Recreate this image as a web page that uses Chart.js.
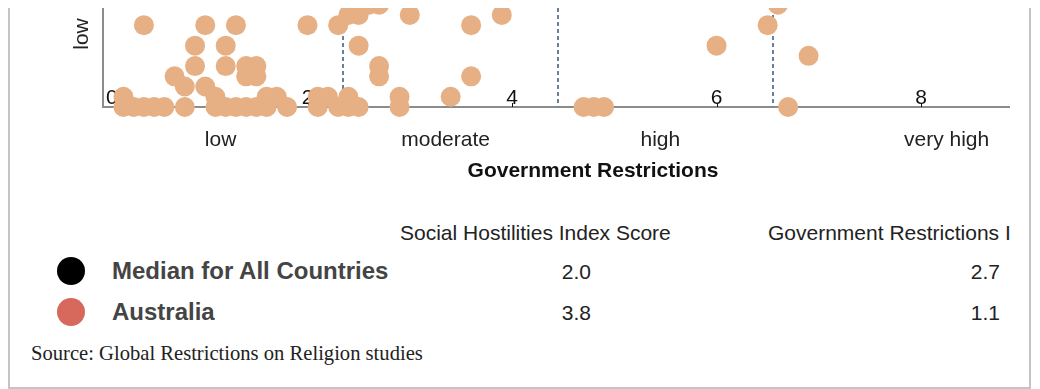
<!DOCTYPE html>
<html>
<head>
<meta charset="utf-8">
<script src="https://cdn.jsdelivr.net/npm/chart.js@4.4.0/dist/chart.umd.min.js"></script>
<style>
  body { margin: 0; background: #fff; font-family: "Liberation Sans", Arial, sans-serif; }
  #frame {
    position: absolute; left: 8px; top: 8px; width: 1023px; height: 381px;
    box-sizing: border-box; border: 2px solid #c4c4c4; border-top: none; overflow: hidden;
  }
  #chartBox { position: absolute; left: 0; top: 0; width: 1019px; height: 190px; }
  .cell { position: absolute; white-space: nowrap; overflow: hidden; }
  .head { font-size: 21px; line-height: 24px; color: #222; }
  .name { font-size: 24px; line-height: 28px; font-weight: bold; color: #444; }
  .val { font-size: 21px; line-height: 24px; color: #222; text-align: right; width: 100px; }
  .dot { position: absolute; width: 28px; height: 28px; border-radius: 50%; }
  #source {
    position: absolute; left: 21px; top: 333px; font-family: "Liberation Serif", "Times New Roman", serif;
    font-size: 20.6px; line-height: 24px; color: #222; white-space: nowrap;
  }
</style>
</head>
<body>
<div id="frame">
  <div id="chartBox"><canvas id="chart" width="1019" height="190"></canvas></div>
  <div id="table"></div>
  <div id="source">Source: Global Restrictions on Religion studies</div>
</div>
<script>
// country scores: government restrictions (x) and social hostilities (y)
const govRestrictions = [
  0.2, 0.3, 0.4, 0.5, 0.6, 0.8, 1.1, 1.2, 1.3, 1.4, 1.5, 1.6, 1.8, 2.1, 2.3, 2.4, 2.5, 2.9, 4.7, 4.8, 4.9, 6.7,
  0.2, 1.1, 1.6, 1.7, 2.1, 2.2, 2.4, 2.9, 3.4,
  0.8, 1.0,
  0.7, 1.4, 1.5, 2.7, 3.6,
  0.9, 1.2, 1.4, 1.5, 2.7,
  6.9,
  0.9, 1.2, 2.5, 6.0,
  0.4, 1.0, 1.3, 2.0, 2.3, 3.6, 6.5,
  2.4, 2.5, 3.0, 3.9,
  2.6, 2.7, 6.6
];
const socialHostilities = [
  0, 0, 0, 0, 0, 0, 0, 0, 0, 0, 0, 0, 0, 0, 0, 0, 0, 0, 0, 0, 0, 0,
  0.1, 0.1, 0.1, 0.1, 0.1, 0.1, 0.1, 0.1, 0.1,
  0.2, 0.2,
  0.3, 0.3, 0.3, 0.3, 0.3,
  0.4, 0.4, 0.4, 0.4, 0.4,
  0.5,
  0.6, 0.6, 0.6, 0.6,
  0.8, 0.8, 0.8, 0.8, 0.8, 0.8, 0.8,
  0.9, 0.9, 0.9, 0.9,
  1.0, 1.0, 1.0
];

const xTickValues = [0, 2, 4, 6, 8];
const categoryNames = ["low", "moderate", "high", "very high"];
const categoryBounds = [0, 2.3, 4.4, 6.5, 10];
const dividerValues = [2.35, 4.45, 6.55];

const summaryNames = ["Median for All Countries", "Australia"];
const shiScores = [2.0, 3.8];
const griScores = [2.7, 1.1];
const columnTitles = ["Social Hostilities Index Score", "Government Restrictions Index Score"];

const summaryColors = ["#000000", "#d7695c"];
const FONT = '"Liberation Sans", Arial, sans-serif';

// dashed dividers, inside tick labels, category labels and titles
const overlay = {
  id: "overlay",
  beforeDatasetsDraw(chart) {
    const { ctx, chartArea, scales: { x } } = chart;
    ctx.save();
    ctx.strokeStyle = "#6a7f9c";
    ctx.lineWidth = 2;
    ctx.setLineDash([4, 3]);
    dividerValues.forEach(v => {
      const px = Math.round(x.getPixelForValue(v));
      ctx.beginPath();
      ctx.moveTo(px, chartArea.top);
      ctx.lineTo(px, chartArea.bottom);
      ctx.stroke();
    });
    ctx.setLineDash([]);

    ctx.fillStyle = "#111";
    ctx.strokeStyle = "#111";
    ctx.lineWidth = 1;
    ctx.font = "21px " + FONT;
    ctx.textBaseline = "alphabetic";
    xTickValues.forEach((v, i) => {
      const px = x.getPixelForValue(v);
      ctx.textAlign = i === 0 ? "left" : "center";
      ctx.fillText(String(v), i === 0 ? px + 3 : px, chartArea.bottom - 3);
      if (i > 0) {
        ctx.beginPath();
        ctx.moveTo(Math.round(px) + 0.5, chartArea.bottom - 4);
        ctx.lineTo(Math.round(px) + 0.5, chartArea.bottom);
        ctx.stroke();
      }
    });
    ctx.restore();
  },
  afterDraw(chart) {
    const { ctx, chartArea, scales: { x } } = chart;
    ctx.save();
    ctx.fillStyle = "#222";
    ctx.font = "21px " + FONT;
    ctx.textAlign = "center";
    ctx.textBaseline = "alphabetic";
    categoryNames.forEach((name, i) => {
      const mid = (categoryBounds[i] + categoryBounds[i + 1]) / 2;
      ctx.fillText(name, x.getPixelForValue(mid), chartArea.bottom + 39);
    });
    ctx.fillStyle = "#111";
    ctx.font = "bold 21px " + FONT;
    ctx.fillText("Government Restrictions", 583, chartArea.bottom + 70);

    // y axis category label
    ctx.fillStyle = "#222";
    ctx.font = "21px " + FONT;
    ctx.translate(chartArea.left - 21, chartArea.top + 26);
    ctx.rotate(-Math.PI / 2);
    ctx.textBaseline = "middle";
    ctx.fillText("low", 0, 0);
    ctx.restore();
  }
};

const countryPoints = govRestrictions.map((g, i) => ({ x: g, y: socialHostilities[i] }));

new Chart(document.getElementById("chart"), {
  type: "scatter",
  data: {
    datasets: [
      {
        label: "Countries",
        data: countryPoints,
        backgroundColor: "#e6b084",
        borderWidth: 0,
        pointRadius: 10,
        pointHoverRadius: 10,
        clip: { left: false, top: 0, right: false, bottom: false }
      },
      ...summaryNames.map((name, i) => ({
        label: name,
        data: [{ x: griScores[i], y: shiScores[i] }],
        backgroundColor: summaryColors[i],
        borderWidth: 0,
        pointRadius: 10,
        clip: { left: false, top: 0, right: false, bottom: false }
      }))
    ]
  },
  options: {
    responsive: false,
    animation: false,
    layout: { autoPadding: false, padding: { left: 0, right: 20, top: 0, bottom: 0 } },
    plugins: { legend: { display: false }, tooltip: { enabled: false } },
    scales: {
      x: {
        type: "linear", min: 0, max: 8.86,
        ticks: { display: false },
        grid: { display: false, drawTicks: false },
        border: { display: true, color: "#8c8c8c", width: 2 },
        afterFit(s) { s.height = 91; }
      },
      y: {
        type: "linear", min: 0, max: 0.968,
        ticks: { display: false },
        grid: { display: false, drawTicks: false },
        border: { display: true, color: "#8c8c8c", width: 2 },
        afterFit(s) { s.width = 93; }
      }
    }
  },
  plugins: [overlay]
});

// summary table under the chart
const table = document.getElementById("table");
function addCell(cls, text, left, top, width) {
  const d = document.createElement("div");
  d.className = "cell " + cls;
  d.textContent = text;
  d.style.left = left + "px";
  d.style.top = top + "px";
  if (width) d.style.width = width + "px";
  table.appendChild(d);
}
addCell("head", columnTitles[0], 390, 213);
addCell("head", columnTitles[1], 758, 213, 243);
summaryNames.forEach((name, i) => {
  const base = 271 + i * 41;
  const dot = document.createElement("div");
  dot.className = "dot";
  dot.style.background = summaryColors[i];
  dot.style.left = "47px";
  dot.style.top = (base - 14 - 8) + "px";
  table.appendChild(dot);
  addCell("name", name, 102, base + 8 - 22 - 8);
  addCell("val", shiScores[i].toFixed(1), 481, base + 8 - 19 - 8);
  addCell("val", griScores[i].toFixed(1), 890, base + 8 - 19 - 8);
});
</script>
</body>
</html>
